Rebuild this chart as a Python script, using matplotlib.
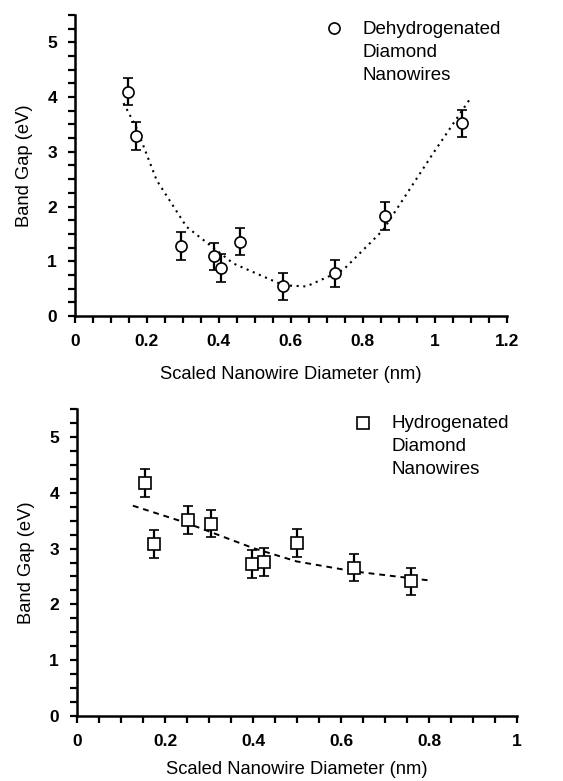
import matplotlib
matplotlib.use("Agg")
import matplotlib.pyplot as plt
from matplotlib.ticker import MultipleLocator

plt.rcParams['font.family'] = ['Liberation Sans', 'DejaVu Sans']

# dehydrogenated diamond nanowires (top panel)
dehyd_x = [0.146, 0.169, 0.294, 0.387, 0.405, 0.458, 0.578, 0.722, 0.862, 1.075]
dehyd_gap = [4.10, 3.29, 1.28, 1.09, 0.88, 1.36, 0.54, 0.78, 1.83, 3.52]
dehyd_err = [0.25, 0.25, 0.25, 0.25, 0.25, 0.25, 0.25, 0.25, 0.25, 0.25]
# trend line
dehyd_fit_x = [0.135, 0.17, 0.227, 0.31, 0.44, 0.58, 0.643, 0.745, 0.856, 0.995, 1.097]
dehyd_fit_y = [3.89, 3.45, 2.48, 1.63, 0.96, 0.56, 0.54, 0.84, 1.57, 2.97, 3.96]

# hydrogenated diamond nanowires (bottom panel)
hyd_x = [0.154, 0.175, 0.253, 0.304, 0.398, 0.426, 0.499, 0.630, 0.759]
hyd_gap = [4.17, 3.08, 3.52, 3.45, 2.72, 2.76, 3.10, 2.66, 2.41]
hyd_err = [0.25, 0.25, 0.25, 0.25, 0.25, 0.25, 0.25, 0.25, 0.25]
hyd_fit_x = [0.127, 0.249, 0.40, 0.499, 0.63, 0.799]
hyd_fit_y = [3.77, 3.46, 3.01, 2.77, 2.59, 2.43]

y_ticks = [0, 1, 2, 3, 4, 5]
y_labels = ['0', '1', '2', '3', '4', '5']
top_x_ticks = [0, 0.2, 0.4, 0.6, 0.8, 1.0, 1.2]
top_x_labels = ['0', '0.2', '0.4', '0.6', '0.8', '1', '1.2']
bot_x_ticks = [0, 0.2, 0.4, 0.6, 0.8, 1.0]
bot_x_labels = ['0', '0.2', '0.4', '0.6', '0.8', '1']

fig = plt.figure(figsize=(5.63, 7.81), dpi=100)
ax1 = fig.add_axes([0.1332, 0.5954, 0.767, 0.3854])
ax2 = fig.add_axes([0.1368, 0.0836, 0.7815, 0.3923])


def style_axis(ax, xmax, xticks, xlabels):
    ax.set_xlim(0, xmax)
    ax.set_ylim(0, 5.5)
    ax.set_xticks(xticks)
    ax.set_xticklabels(xlabels, fontweight='bold')
    ax.set_yticks(y_ticks)
    ax.set_yticklabels(y_labels, fontweight='bold')
    ax.xaxis.set_minor_locator(MultipleLocator(0.05))
    ax.yaxis.set_minor_locator(MultipleLocator(0.25))
    for side in ['top', 'right']:
        ax.spines[side].set_visible(False)
    for side in ['left', 'bottom']:
        ax.spines[side].set_linewidth(1.8)
    ax.tick_params(which='both', direction='out', length=5, width=1.6)
    ax.tick_params(labelsize=12.5, pad=8)
    ax.set_xlabel('Scaled Nanowire Diameter (nm)', fontsize=13.2, labelpad=12)
    ax.set_ylabel('Band Gap (eV)', fontsize=13.2, labelpad=10)


ax1.plot(dehyd_fit_x, dehyd_fit_y, color='black', linestyle=(0, (1, 2.2)), linewidth=1.5)
ax1.errorbar(dehyd_x, dehyd_gap, yerr=dehyd_err, fmt='o', mfc='white', mec='black',
             ms=8, mew=1.2, ecolor='black', elinewidth=1.6, capsize=3.5, capthick=1.6)
style_axis(ax1, 1.2, top_x_ticks, top_x_labels)

ax2.plot(hyd_fit_x, hyd_fit_y, color='black', linestyle=(0, (3, 2.5)), linewidth=1.4)
ax2.errorbar(hyd_x, hyd_gap, yerr=hyd_err, fmt='s', mfc='white', mec='black',
             ms=9, mew=1.2, ecolor='black', elinewidth=1.6, capsize=3.5, capthick=1.6)
style_axis(ax2, 1.0, bot_x_ticks, bot_x_labels)
ax2.xaxis.labelpad = 9

# legend-like keys, marker beside the first text line
fig.lines.append(plt.Line2D([0.593], [0.9641], marker='o', ms=8, mfc='white', mec='black',
                            mew=1.2, transform=fig.transFigure))
fig.text(0.643, 0.973, 'Dehydrogenated\nDiamond\nNanowires', fontsize=13.5,
         va='top', ha='left', linespacing=1.44)
fig.lines.append(plt.Line2D([0.6448], [0.4584], marker='s', ms=9, mfc='white', mec='black',
                            mew=1.2, transform=fig.transFigure))
fig.text(0.696, 0.468, 'Hydrogenated\nDiamond\nNanowires', fontsize=13.5,
         va='top', ha='left', linespacing=1.44)

fig.savefig('out.png', dpi=100)
